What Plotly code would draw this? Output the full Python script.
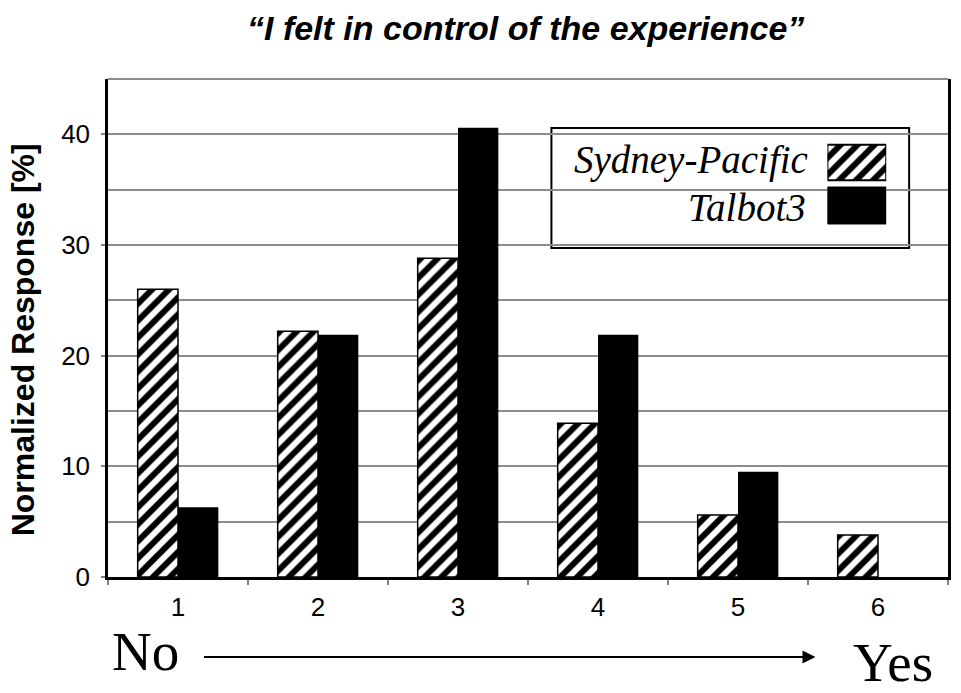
import plotly.graph_objects as go

categories = [1, 2, 3, 4, 5, 6]
sydney_pacific = [26.0, 22.2, 28.8, 13.9, 5.6, 3.8]
talbot3 = [6.3, 21.9, 40.6, 21.9, 9.5, 0.0]
series_names = ["Sydney-Pacific", "Talbot3"]
y_tick_vals = [0, 10, 20, 30, 40]
title_text = "\u201cI felt in control of the experience\u201d"
y_title = "Normalized Response [%]"

W, H = 961, 693
L, R, T, B = 108, 951, 79, 577
SERIF = "Liberation Serif, Times New Roman, serif"


def px(xp):
    return (xp - L) / (R - L)


def py(yp):
    return (B - yp) / (B - T)


hatch = dict(shape="/", fgcolor="black", bgcolor="white", size=12, solidity=0.5, fgopacity=1)

fig = go.Figure()
fig.add_trace(go.Bar(
    x=categories, y=sydney_pacific, name=series_names[0],
    marker=dict(color="white", line=dict(color="black", width=1.5), pattern=hatch),
    showlegend=False,
))
fig.add_trace(go.Bar(
    x=categories, y=talbot3, name=series_names[1],
    marker=dict(color="black", line=dict(color="black", width=0)),
    showlegend=False,
))

# legend swatches on an overlay axis
fig.add_trace(go.Bar(
    y=[1], x=[1], orientation="h", xaxis="x2", yaxis="y2", width=0.82,
    marker=dict(color="white", line=dict(color="black", width=2), pattern=hatch),
    showlegend=False, hoverinfo="skip",
))
fig.add_trace(go.Bar(
    y=[0], x=[1], orientation="h", xaxis="x2", yaxis="y2", width=0.86,
    marker=dict(color="black", line=dict(color="black", width=1)),
    showlegend=False, hoverinfo="skip",
))

fig.update_layout(
    width=W, height=H,
    margin=dict(l=L, r=W - R, t=T, b=H - B),
    paper_bgcolor="white", plot_bgcolor="white",
    barmode="group", bargap=0.424, bargroupgap=0,
    font=dict(family="Liberation Sans", color="black"),
    xaxis=dict(
        range=[0.5, 6.5], tickvals=categories, ticktext=[str(c) for c in categories],
        ticks="", showgrid=False, zeroline=False,
        showline=True, linecolor="black", linewidth=2.5,
        tickfont=dict(size=26, family="Liberation Sans"),
        ticklabelstandoff=5,
        minor=dict(tickvals=[0.5, 1.5, 2.5, 3.5, 4.5, 5.5, 6.5], ticks="outside",
                   ticklen=5, tickcolor="#808080", tickwidth=1.5, showgrid=False),
    ),
    yaxis=dict(
        range=[0, 45], tickvals=y_tick_vals, ticks="outside", ticklen=4,
        tickcolor="#808080", tickwidth=1.5,
        showgrid=True, gridcolor="#8c8c8c", gridwidth=1.5, zeroline=False,
        showline=True, linecolor="black", linewidth=2.5, mirror=True,
        tickfont=dict(size=26, family="Liberation Sans"),
        ticklabelstandoff=6,
        minor=dict(dtick=5, showgrid=True, gridcolor="#8c8c8c", gridwidth=1.5),
    ),
    xaxis2=dict(domain=[px(830), px(889)], range=[0, 1], anchor="y2",
                visible=False, fixedrange=True),
    yaxis2=dict(domain=[py(227), py(141)], range=[-0.5, 1.5], anchor="x2",
                visible=False, fixedrange=True),
)

shapes = [
    dict(type="line", xref="paper", yref="paper", x0=0, x1=1, y0=1, y1=1,
         line=dict(color="#8c8c8c", width=2)),
    dict(type="rect", xref="paper", yref="paper", x0=px(553), x1=px(912), y0=py(248), y1=py(128),
         line=dict(color="black", width=2), fillcolor="white", layer="below"),
]
fig.update_layout(shapes=shapes)

ann = [
    dict(text=title_text, x=px(527), y=py(28), xref="paper", yref="paper", yanchor="middle",
         showarrow=False, font=dict(size=34, family="Liberation Sans", weight="bold", style="italic")),
    dict(text=y_title, x=px(23), y=py(340), xref="paper", yref="paper",
         xanchor="center", yanchor="middle", textangle=-90,
         showarrow=False, font=dict(size=32, family="Liberation Sans", weight="bold")),
    dict(text=series_names[0], x=px(813), y=py(160), xref="paper", yref="paper",
         xanchor="right", yanchor="middle",
         showarrow=False, font=dict(size=39, family=SERIF, style="italic")),
    dict(text=series_names[1], x=px(811), y=py(207), xref="paper", yref="paper",
         xanchor="right", yanchor="middle",
         showarrow=False, font=dict(size=39, family=SERIF, style="italic")),
    dict(text="No", x=px(110), y=py(651), xref="paper", yref="paper",
         xanchor="left", yanchor="middle",
         showarrow=False, font=dict(size=55, family=SERIF)),
    dict(text="Yes", x=px(854), y=py(662), xref="paper", yref="paper",
         xanchor="left", yanchor="middle",
         showarrow=False, font=dict(size=55, family=SERIF)),
    dict(text="", x=px(818), y=py(657), xref="paper", yref="paper",
         ax=-613, ay=0, showarrow=True, arrowhead=2, arrowsize=1.3, arrowwidth=2,
         arrowcolor="black"),
]
fig.update_layout(annotations=ann)

fig.write_html("out.html")
